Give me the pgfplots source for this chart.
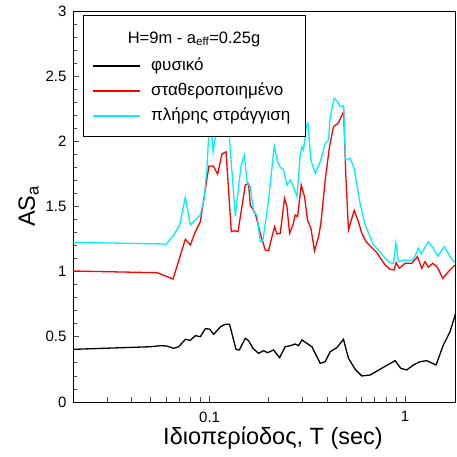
\documentclass[border=0pt]{standalone}
\usepackage{pgfplots}
\pgfplotsset{compat=1.18}
\usepackage{pgfplotstable}
\usepackage{fontspec}
\setmainfont{Liberation Sans}
\definecolor{mycyan}{RGB}{0,240,255}

\pgfplotstableread{
T v
0.02 0.404
0.0498 0.424
0.056 0.432
0.0601 0.430
0.0655 0.412
0.0694 0.424
0.0752 0.481
0.0797 0.473
0.0845 0.509
0.0896 0.501
0.0951 0.562
0.1 0.560
0.1048 0.519
0.1137 0.578
0.1203 0.596
0.1265 0.596
0.1364 0.404
0.1418 0.399
0.1522 0.489
0.1583 0.470
0.1666 0.412
0.178 0.373
0.1888 0.394
0.1978 0.378
0.2123 0.399
0.2279 0.340
0.2436 0.424
0.2585 0.432
0.2742 0.445
0.285 0.432
0.2966 0.476
0.3145 0.450
0.3336 0.424
0.3679 0.297
0.39 0.309
0.4139 0.386
0.4477 0.417
0.4838 0.481
0.5131 0.335
0.5552 0.251
0.6006 0.200
0.6625 0.207
0.7744 0.266
0.8888 0.317
0.9506 0.258
1.02 0.246
1.102 0.284
1.193 0.309
1.291 0.317
1.44 0.284
1.569 0.437
1.698 0.540
1.837 0.706
}\natural

\pgfplotstableread{
T v
0.02 1.005
0.0539 0.992
0.065 0.944
0.0751 1.248
0.0797 1.205
0.0845 1.307
0.0896 1.383
0.0992 1.811
0.1044 1.811
0.1099 1.749
0.1157 1.903
0.1213 1.920
0.1291 1.307
0.1337 1.314
0.1397 1.307
0.1522 1.665
0.1582 1.678
0.1614 1.510
0.1712 1.448
0.1815 1.294
0.1926 1.166
0.2002 1.161
0.2084 1.268
0.2149 1.345
0.2211 1.289
0.2298 1.294
0.2416 1.563
0.2486 1.499
0.2564 1.294
0.2668 1.358
0.2741 1.435
0.2817 1.422
0.2942 1.665
0.3058 1.575
0.3168 1.396
0.3297 1.333
0.344 1.159
0.3606 1.268
0.3709 1.371
0.3902 1.703
0.4104 1.959
0.4301 2.112
0.4562 2.143
0.4850 2.230
0.4970 1.750
0.5131 1.320
0.5487 1.470
0.5772 1.383
0.6006 1.294
0.6318 1.230
0.6679 1.192
0.7166 1.146
0.7901 1.051
0.8383 1.018
0.8785 1.013
0.8995 1.069
0.9352 1.026
1.0 1.064
1.082 1.064
1.156 1.115
1.217 1.026
1.265 1.077
1.315 1.034
1.385 1.064
1.462 1.034
1.558 0.949
1.665 1.000
1.801 1.051
}\stabilized

\pgfplotstableread{
T v
0.02 1.225
0.0601 1.212
0.0655 1.281
0.0703 1.358
0.0751 1.571
0.0797 1.358
0.0896 1.435
0.0939 1.563
0.097 1.806
0.1005 2.25
0.1041 1.920
0.1157 2.35
0.121 2.30
0.126 2.04
0.1353 1.427
0.1446 1.806
0.1504 1.895
0.1553 1.690
0.1614 1.652
0.1678 1.460
0.1747 1.435
0.1815 1.230
0.1874 1.243
0.1926 1.371
0.2002 1.550
0.2141 1.964
0.2226 1.844
0.2298 1.801
0.2388 1.780
0.2486 1.665
0.2585 1.703
0.2687 1.652
0.2797 1.575
0.2907 1.895
0.2966 1.959
0.3022 1.934
0.3119 2.112
0.3182 2.138
0.3297 1.857
0.3468 1.755
0.3679 1.844
0.3902 1.985
0.4057 2.010
0.4139 2.189
0.4337 2.330
0.4508 2.304
0.4654 2.266
0.4850 2.273
0.4950 1.857
0.5236 1.870
0.5487 1.790
0.5888 1.520
0.6245 1.358
0.6679 1.256
0.6887 1.205
0.7304 1.166
0.7901 1.103
0.8383 1.069
0.8713 1.064
0.8964 1.218
0.9242 1.077
1.0 1.090
1.082 1.084
1.125 1.120
1.169 1.179
1.207 1.136
1.315 1.230
1.395 1.179
1.469 1.120
1.588 1.192
1.698 1.115
1.801 1.069
}\drained

\begin{document}
\begin{tikzpicture}
\begin{semilogxaxis}[
  scale only axis,
  width=382pt, height=391pt,
  xmin=0.02, xmax=1.8,
  ymin=0, ymax=3,
  axis line style={line width=0.9pt},
  xtick={0.1,1}, xticklabels={0.1,1},
  minor xtick={0.02,0.03,0.04,0.05,0.06,0.07,0.08,0.09,0.2,0.3,0.4,0.5,0.6,0.7,0.8,0.9},
  ytick={0,0.5,1,1.5,2,2.5,3},
  yticklabels={0,0.5,1,1.5,2,2.5,3},
  minor y tick num=4,
  tick align=inside,
  tick pos=left,
  major tick length=6pt, minor tick length=4.5pt,
  every tick/.style={black!70, line width=0.8pt},
  /pgf/number format/assume math mode=true,
  tick label style={font=\fontsize{15}{18}\selectfont},
  yticklabel style={xshift=-3pt},
  xticklabel style={yshift=-6pt},
  xlabel={Ιδιοπερίοδος, T (sec)},
  ylabel={AS\textsubscript{a}},
  label style={font=\fontsize{23.5}{27}\selectfont},
  xlabel style={yshift=2pt, xshift=9pt},
  ylabel style={yshift=0pt},
  clip=true,
]
\addplot[black, line width=1.3pt] table[x=T,y=v] {\natural};
\addplot[red, line width=1.3pt] table[x=T,y=v] {\stabilized};
\addplot[mycyan, line width=1.3pt] table[x=T,y=v] {\drained};
\end{semilogxaxis}
\draw[fill=white, line width=0.8pt] ([shift={(10pt,-4pt)}]current axis.north west) rectangle ++(222pt,-121pt);
\node[font=\fontsize{16.5}{19}\selectfont] at ([shift={(121pt,-28pt)}]current axis.north west) {H=9m - a\textsubscript{eff}=0.25g};
\draw[black, line width=1.3pt] ([shift={(20pt,-55pt)}]current axis.north west) -- ++(47pt,0);
\draw[red, line width=1.3pt] ([shift={(20pt,-80pt)}]current axis.north west) -- ++(47pt,0);
\draw[mycyan, line width=1.3pt] ([shift={(20pt,-105pt)}]current axis.north west) -- ++(47pt,0);
\node[anchor=west, font=\fontsize{17}{20}\selectfont, inner sep=0pt] at ([shift={(78pt,-55pt)}]current axis.north west) {φυσικό};
\node[anchor=west, font=\fontsize{17}{20}\selectfont, inner sep=0pt] at ([shift={(78pt,-80pt)}]current axis.north west) {σταθεροποιημένο};
\node[anchor=west, font=\fontsize{17}{20}\selectfont, inner sep=0pt] at ([shift={(78pt,-105pt)}]current axis.north west) {πλήρης στράγγιση};
\pgfresetboundingbox
\path ([shift={(-73pt,-55pt)}]current axis.south west) rectangle ([shift={(1pt,11pt)}]current axis.north east);
\end{tikzpicture}
\end{document}
